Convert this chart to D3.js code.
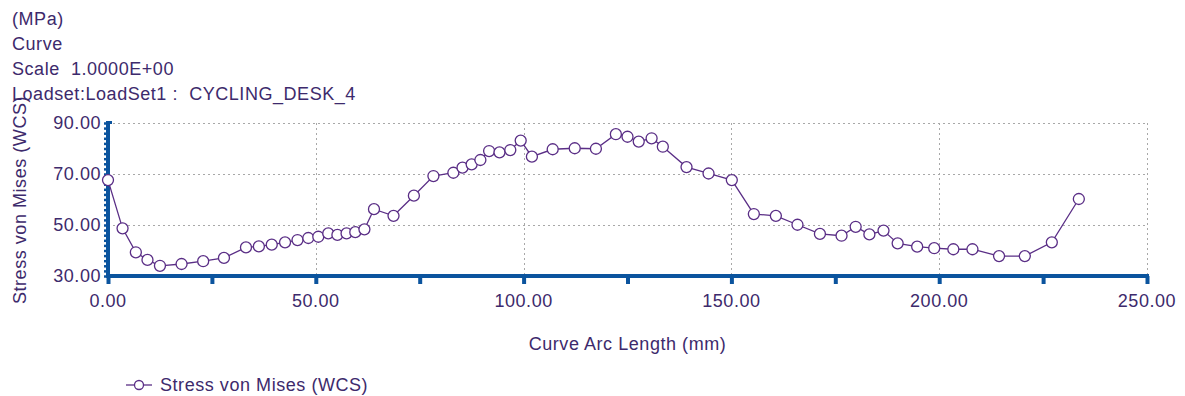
<!DOCTYPE html>
<html>
<head>
<meta charset="utf-8">
<script src="https://cdn.jsdelivr.net/npm/d3@7"></script>
<style>
  body { margin: 0; background: #fff; }
  svg { display: block; font-family: "Liberation Sans", Arial, sans-serif; }
  svg text { letter-spacing: 0.55px; }
</style>
</head>
<body>
<div id="chart"></div>
<script>
// curve arc length (mm) and von Mises stress (MPa)
const arcLength = [0, 3.5, 6.7, 9.5, 12.5, 17.7, 22.9, 27.9, 33.2, 36.3, 39.4, 42.6, 45.6, 48.2, 50.6,
  53.0, 55.2, 57.4, 59.5, 61.7, 64.0, 68.7, 73.6, 78.3, 83.1, 85.3, 87.5, 89.6, 91.7, 94.2, 96.8,
  99.3, 102.0, 107.0, 112.3, 117.4, 122.2, 125.0, 127.7, 130.8, 133.5, 139.2, 144.5, 150.1, 155.4,
  160.7, 165.9, 171.3, 176.5, 179.9, 183.2, 186.6, 190.0, 194.7, 198.8, 203.4, 208.0, 214.4, 220.6,
  227.1, 233.6];
const stress = [67.6, 48.7, 39.3, 36.3, 34.0, 34.7, 35.8, 37.1, 41.2, 41.6, 42.3, 43.2, 44.1, 44.9, 45.4,
  46.7, 46.1, 46.7, 47.2, 48.3, 56.2, 53.6, 61.5, 69.2, 70.5, 72.5, 73.8, 75.5, 79.0, 78.5, 79.4,
  83.1, 76.8, 79.7, 80.1, 79.9, 85.6, 84.6, 82.7, 84.0, 80.7, 72.7, 70.2, 67.6, 54.3,
  53.6, 50.1, 46.5, 45.8, 49.3, 46.3, 47.8, 42.8, 41.5, 40.9, 40.5, 40.5, 37.8, 37.8,
  43.2, 60.2];

const xTicks = [0, 50, 100, 150, 200, 250];
const xMinorTicks = [25, 75, 125, 175, 225];
const yTicks = [30, 50, 70, 90];
const headerLines = ["(MPa)", "Curve", "Scale  1.0000E+00", "Loadset:LoadSet1 :  CYCLING_DESK_4"];
const seriesName = "Stress von Mises (WCS)";
const xTitle = "Curve Arc Length (mm)";
const yTitle = "Stress von Mises (WCS)";

const width = 1185, height = 396;
const textColor = "#3d2a6c";
const axisColor = "#0b549e";
const lineColor = "#5a2e86";
const fontSize = "18px";

const data = arcLength.map((d, i) => ({ x: d, y: stress[i] }));

const svg = d3.select("#chart").append("svg")
  .attr("width", width).attr("height", height);

const x = d3.scaleLinear().domain([0, 250]).range([108, 1147]);
const y = d3.scaleLinear().domain([30, 90]).range([276, 123]);

// header text
svg.append("g").selectAll("text")
  .data(headerLines)
  .join("text")
  .attr("x", 12).attr("y", (d, i) => 25 + i * 25)
  .attr("fill", textColor).style("font-size", fontSize)
  .style("white-space", "pre")
  .text(d => d);

// dotted grid
const grid = svg.append("g")
  .attr("stroke", "#a8a8a8").attr("stroke-width", 1)
  .attr("stroke-dasharray", "2,3");
grid.selectAll("line.h")
  .data(yTicks.filter(d => d > 30))
  .join("line").attr("class", "h")
  .attr("x1", x(0)).attr("x2", x(250))
  .attr("y1", d => Math.round(y(d)) + 0.5).attr("y2", d => Math.round(y(d)) + 0.5);
grid.selectAll("line.v")
  .data(xTicks.filter(d => d > 0))
  .join("line").attr("class", "v")
  .attr("x1", d => Math.round(x(d)) + 0.5).attr("x2", d => Math.round(x(d)) + 0.5)
  .attr("y1", y(90)).attr("y2", y(30));

// y axis: thick line with minor ticks every 2 units on the left
const yAxis = d3.axisLeft(y)
  .tickValues(d3.range(30, 90.01, 2))
  .tickSize(4).tickFormat("");
const gy = svg.append("g").attr("transform", `translate(${x(0)},0)`).call(yAxis);
gy.select(".domain").remove();
gy.selectAll(".tick line").attr("stroke", axisColor).attr("stroke-width", 2.5);
svg.append("line")
  .attr("x1", x(0)).attr("x2", x(0))
  .attr("y1", y(90) - 2).attr("y2", y(30) + 2)
  .attr("stroke", axisColor).attr("stroke-width", 4);
svg.append("rect")
  .attr("x", x(0)).attr("y", y(90) - 2).attr("width", 4).attr("height", 3)
  .attr("fill", axisColor);

// y tick labels
svg.append("g").selectAll("text")
  .data(yTicks)
  .join("text")
  .attr("x", 101).attr("y", d => y(d)).attr("dy", "0.36em")
  .attr("text-anchor", "end")
  .attr("fill", textColor).style("font-size", fontSize)
  .text(d => d3.format(".2f")(d));

// x axis
const xAxis = d3.axisBottom(x)
  .tickValues(xTicks.concat(xMinorTicks))
  .tickSize(8).tickFormat("");
const gx = svg.append("g").attr("transform", `translate(0,${y(30)})`).call(xAxis);
gx.select(".domain").remove();
gx.selectAll(".tick line").attr("stroke", axisColor).attr("stroke-width", 4);
svg.append("line")
  .attr("x1", x(0) - 2).attr("x2", x(250) + 2)
  .attr("y1", y(30)).attr("y2", y(30))
  .attr("stroke", axisColor).attr("stroke-width", 4);

svg.append("g").selectAll("text")
  .data(xTicks)
  .join("text")
  .attr("x", d => x(d)).attr("y", 307)
  .attr("text-anchor", "middle")
  .attr("fill", textColor).style("font-size", fontSize)
  .text(d => d3.format(".2f")(d));

// axis titles
svg.append("text")
  .attr("x", (x(0) + x(250)) / 2).attr("y", 350)
  .attr("text-anchor", "middle")
  .attr("fill", textColor).style("font-size", fontSize)
  .text(xTitle);
svg.append("text")
  .attr("transform", "rotate(-90)")
  .attr("x", -200).attr("y", 26)
  .attr("text-anchor", "middle")
  .attr("fill", textColor).style("font-size", fontSize)
  .text(yTitle);

// series
const line = d3.line().x(d => x(d.x)).y(d => y(d.y));
svg.append("path")
  .datum(data)
  .attr("fill", "none")
  .attr("stroke", lineColor).attr("stroke-width", 1.3)
  .attr("d", line);
svg.append("g").selectAll("circle")
  .data(data)
  .join("circle")
  .attr("cx", d => x(d.x)).attr("cy", d => y(d.y))
  .attr("r", 5.5)
  .attr("fill", "#fff")
  .attr("stroke", lineColor).attr("stroke-width", 1.3);

// legend
const legend = svg.append("g").attr("transform", "translate(126,385)");
legend.append("line")
  .attr("x1", 0).attr("x2", 26).attr("y1", 0).attr("y2", 0)
  .attr("stroke", lineColor).attr("stroke-width", 1.3);
legend.append("circle")
  .attr("cx", 13).attr("cy", 0).attr("r", 4.5)
  .attr("fill", "#fff").attr("stroke", lineColor).attr("stroke-width", 1.3);
legend.append("text")
  .attr("x", 34).attr("y", 0).attr("dy", "0.36em")
  .attr("fill", textColor).style("font-size", fontSize)
  .text(seriesName);
</script>
</body>
</html>
